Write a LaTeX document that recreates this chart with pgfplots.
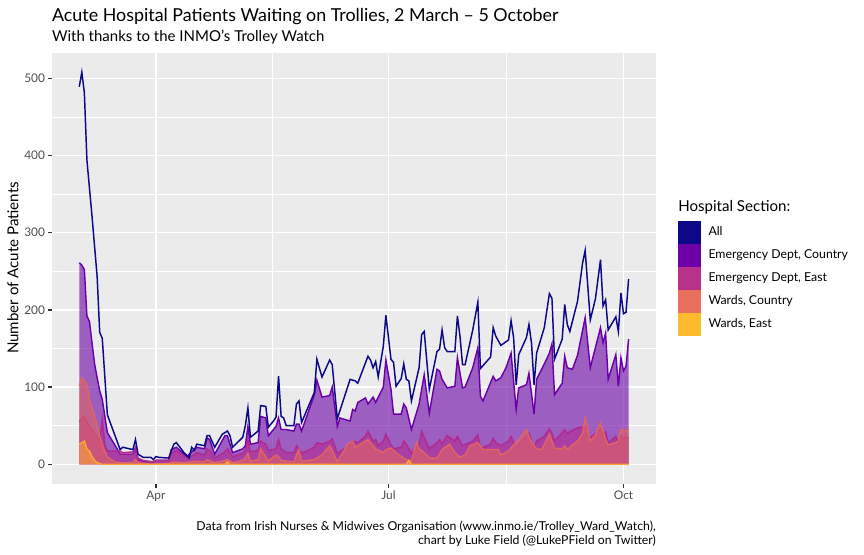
\documentclass[border=0pt]{standalone}
\usepackage{pgfplots}
\pgfplotsset{compat=1.18}
\usepackage{pgfplotstable}
\usepackage{fontspec}
\setmainfont{Lato}
\definecolor{cAll}{HTML}{0D0887}
\definecolor{cEDC}{HTML}{6A00A8}
\definecolor{cEDE}{HTML}{B12A90}
\definecolor{cWC}{HTML}{E16462}
\definecolor{cWE}{HTML}{FCA636}
\definecolor{kEDC}{HTML}{6E00A8}
\definecolor{kEDE}{HTML}{B7318A}
\definecolor{kWC}{HTML}{E8705C}
\definecolor{kWE}{HTML}{FDBA2C}
\definecolor{panelbg}{HTML}{EBEBEB}
\definecolor{grey30}{HTML}{4D4D4D}
\definecolor{grey20}{HTML}{333333}

% day 0 = 1 March
\pgfplotstableread{
d v
1 489
2 508
3 481
4 394
6 321
8 243
9 171
10 163
12 64
17 19
18 22
22 19
23 32
24 13
26 9
29 9
30 6
31 10
32 9
36 8
38 26
39 28
42 15
44 8
45 22
46 18
47 26
50 24
51 37
52 37
54 22
57 39
59 43
60 37
61 22
65 35
66 50
67 73
68 35
71 43
72 76
74 75
75 48
77 56
78 61
79 114
80 62
81 60
82 50
84 50
85 50
86 78
87 82
88 54
93 93
94 136
96 113
99 135
100 129
102 59
107 110
109 108
110 105
114 140
115 135
116 125
117 133
118 113
120 153
121 193
123 136
124 132
125 101
127 111
128 130
129 110
130 108
131 82
134 125
135 168
136 172
138 97
141 146
142 149
143 174
144 151
145 146
148 146
149 192
150 166
151 129
152 129
155 174
157 210
158 124
162 139
163 177
164 166
166 154
169 161
170 186
171 164
172 103
173 142
176 164
177 181
178 157
179 103
180 144
183 177
185 221
186 215
187 136
190 162
191 207
192 181
193 172
196 211
198 261
199 277
201 187
203 214
205 265
206 205
207 213
208 174
211 191
212 172
213 222
214 195
215 197
216 240
}\tabAll

\pgfplotstableread{
d v
1 261
2 258
3 252
4 192
5 185
6 157
7 130
8 112
9 95
10 84
12 41
16 19
17 13
22 13
23 19
24 6
26 4
30 3
31 5
36 5
37 19
39 22
43 10
46 19
47 22
50 20
51 34
52 32
54 13
58 37
59 37
61 15
65 20
66 24
67 49
68 26
71 28
72 62
74 60
75 37
77 45
78 49
79 60
80 45
82 45
85 43
86 52
87 52
88 43
93 90
94 109
96 87
99 89
100 100
102 49
103 60
107 56
108 71
109 69
110 80
113 86
114 78
116 87
117 80
120 100
121 135
123 97
124 65
127 65
128 78
129 73
131 45
134 78
136 116
138 66
141 123
142 121
143 110
145 99
148 101
149 138
151 99
152 100
155 125
157 151
158 88
159 82
163 114
164 108
166 112
168 125
170 144
172 71
173 99
176 103
177 118
179 65
180 110
183 130
185 144
186 156
187 90
190 105
191 140
192 125
194 123
196 141
199 190
201 125
205 177
206 157
207 170
208 110
211 142
212 101
213 138
214 121
215 127
216 162
}\tabEDC

\pgfplotstableread{
d v
1 55
2 60
3 62
4 55
5 50
6 45
8 35
9 30
10 58
11 25
12 17
17 17
18 15
22 16
23 22
24 8
26 5
30 3
31 5
36 5
37 14
39 18
43 8
46 12
47 15
50 12
51 20
52 18
54 8
58 16
59 20
61 10
65 14
66 18
67 32
68 16
71 18
72 30
74 26
75 18
78 20
79 32
80 20
82 15
85 15
86 24
87 20
88 14
93 22
94 28
96 26
99 30
100 33
102 14
107 25
108 30
110 28
113 36
114 43
116 30
117 32
118 24
120 30
121 39
123 25
124 20
127 22
128 30
129 26
131 14
134 26
135 43
136 35
138 20
141 28
142 32
143 26
145 37
148 30
149 36
151 24
155 30
157 38
158 20
162 26
163 34
164 28
166 24
169 30
170 36
172 20
173 26
176 36
177 40
179 22
180 30
183 36
185 46
186 40
187 30
190 41
191 45
192 40
194 44
196 47
199 49
201 34
203 40
205 46
206 38
207 42
208 28
211 36
212 28
213 38
214 32
215 36
216 33
}\tabEDE

\pgfplotstableread{
d v
1 101
2 112
3 108
4 104
5 83
7 62
9 37
10 25
12 9
15 3
17 2
22 2
23 6
24 2
26 1
30 0
36 1
38 3
42 2
45 3
47 4
50 3
51 6
52 5
54 2
57 4
59 6
61 2
65 5
66 8
67 14
68 4
71 6
72 20
74 10
75 4
78 12
79 10
80 5
82 4
85 3
86 12
87 19
88 4
93 6
96 12
99 24
100 18
102 3
106 26
108 30
109 22
110 24
111 26
114 32
116 24
117 20
120 15
121 19
123 21
125 15
127 10
129 6
131 4
133 28
134 20
136 15
138 8
141 8
143 19
146 26
148 15
150 9
152 12
154 24
157 28
159 19
162 19
165 19
166 12
169 17
171 25
173 32
176 45
177 35
179 24
180 20
182 19
185 39
187 21
190 20
191 24
192 19
194 25
196 30
198 40
199 60
201 30
203 38
205 54
207 32
208 25
211 28
212 30
213 45
215 43
216 47
}\tabWC

\pgfplotstableread{
d v
1 26
2 28
3 30
4 20
5 17
6 10
7 5
8 2
9 1
10 0
58 0
59 3
60 0
129 0
130 5
131 0
216 0
}\tabWE

\begin{document}
\begin{tikzpicture}
\path[use as bounding box] (0,0) rectangle (648pt,-416.25pt);
\begin{axis}[
  at={(38.85pt,-39.4pt)}, anchor=north west,
  width=453.2pt, height=323.5pt, scale only axis,
  xmin=-9.75, xmax=226.75, ymin=-25.4, ymax=533.4,
  axis background/.style={fill=panelbg},
  axis x line=bottom, axis y line=left,
  axis line style={draw=none,-},
  xtick={31,122,214}, xticklabels={Apr,Jul,Oct},
  minor xtick={76.5,168},
  ytick={0,100,200,300,400,500},
  minor ytick={50,150,250,350,450},
  grid=both,
  major grid style={white, line width=1.07pt},
  minor grid style={white, line width=0.53pt},
  major tick length=2.75pt, minor tick length=0pt,
  tick align=outside,
  major tick style={grey20, line width=1.07pt},
  /pgf/number format/assume math mode=true,
  ticklabel style={font=\fontsize{8.9}{10}\selectfont, text=grey30},
  yticklabel style={inner sep=0pt, xshift=-2.2pt},
  xticklabel style={inner sep=0pt, yshift=-2.2pt},
]
\addplot[draw=none, fill=cEDC, fill opacity=0.6] table[x=d,y=v] {\tabEDC} \closedcycle;
\addplot[cEDC, line width=1.07pt] table[x=d,y=v] {\tabEDC};
\addplot[draw=none, fill=cEDE, fill opacity=0.6] table[x=d,y=v] {\tabEDE} \closedcycle;
\addplot[cEDE, line width=1.07pt] table[x=d,y=v] {\tabEDE};
\addplot[draw=none, fill=cWC, fill opacity=0.6] table[x=d,y=v] {\tabWC} \closedcycle;
\addplot[cWC, line width=1.07pt] table[x=d,y=v] {\tabWC};
\addplot[draw=none, fill=cWE, fill opacity=0.6] table[x=d,y=v] {\tabWE} \closedcycle;
\addplot[cWE, line width=1.07pt] table[x=d,y=v] {\tabWE};
\addplot[cAll, line width=1.1pt] table[x=d,y=v] {\tabAll};
\end{axis}
% titles
\node[anchor=base west, inner sep=0pt, font=\fontsize{13.4}{15}\selectfont] at (38.85pt,-16.1pt) {Acute Hospital Patients Waiting on Trollies, 2 March – 5 October};
\node[anchor=base west, inner sep=0pt, font=\fontsize{11.25}{13}\selectfont] at (38.85pt,-31.3pt) {With thanks to the INMO's Trolley Watch};
% y axis title
\node[rotate=90, inner sep=0pt, font=\fontsize{11.3}{13}\selectfont] at (9.75pt,-201pt) {Number of Acute Patients};
% caption
\node[anchor=base east, inner sep=0pt, font=\fontsize{9.2}{10}\selectfont] at (492pt,-397.9pt) {Data from Irish Nurses \& Midwives Organisation (www.inmo.ie/Trolley\_Ward\_Watch),};
\node[anchor=base east, inner sep=0pt, font=\fontsize{9.2}{10}\selectfont] at (492pt,-408.4pt) {chart by Luke Field (@LukePField on Twitter)};
% legend
\node[anchor=base west, inner sep=0pt, font=\fontsize{11.3}{13}\selectfont] at (508.5pt,-159pt) {Hospital Section:};
\fill[cAll] (508.7pt,-165.75pt) rectangle (525.75pt,-183pt);
\fill[kEDC] (508.7pt,-183pt) rectangle (525.75pt,-200.25pt);
\fill[kEDE] (508.7pt,-200.25pt) rectangle (525.75pt,-217.5pt);
\fill[kWC] (508.7pt,-217.5pt) rectangle (525.75pt,-234.75pt);
\fill[kWE] (508.7pt,-234.75pt) rectangle (525.75pt,-252pt);
\begin{scope}[every node/.style={anchor=mid west, inner sep=0pt, font=\fontsize{9.2}{10}\selectfont}]
\node at (531.2pt,-174.4pt) {All};
\node at (531.2pt,-191.65pt) {Emergency Dept, Country};
\node at (531.2pt,-208.9pt) {Emergency Dept, East};
\node at (531.2pt,-226.15pt) {Wards, Country};
\node at (531.2pt,-243.4pt) {Wards, East};
\end{scope}
\end{tikzpicture}
\end{document}
